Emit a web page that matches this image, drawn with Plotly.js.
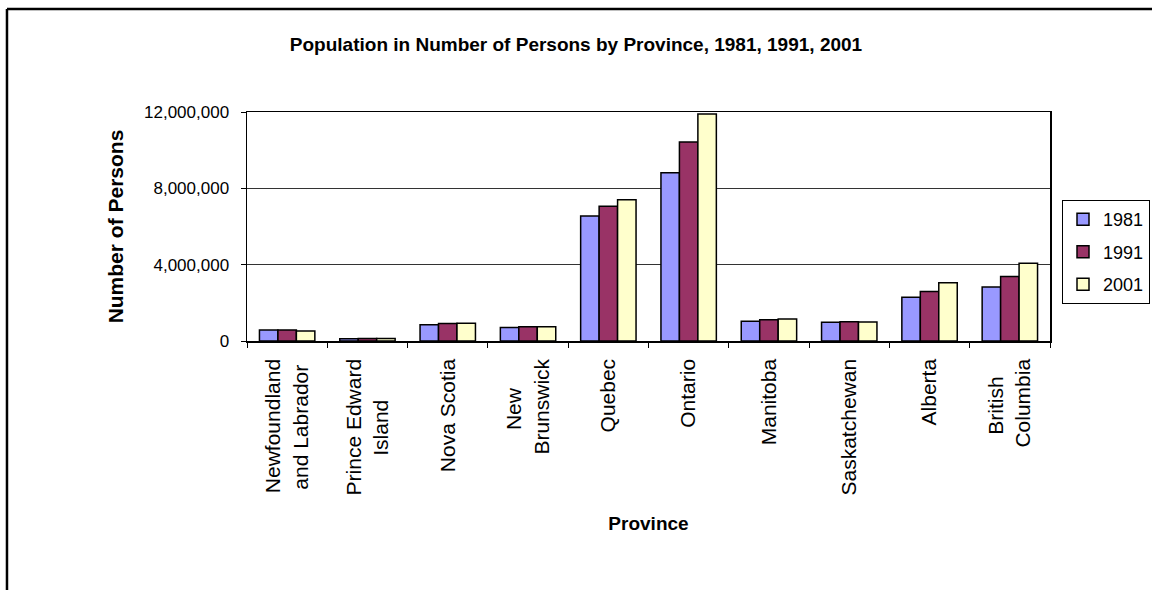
<!DOCTYPE html>
<html>
<head>
<meta charset="utf-8">
<script src="https://cdn.plot.ly/plotly-3.0.1.min.js"></script>
<style>html,body{margin:0;padding:0;background:#fff;}#chart{width:1152px;height:590px;}</style>
</head>
<body>
<div id="chart"></div>
<script>
const provinces = ["Newfoundland<br>and Labrador&nbsp;", "Prince Edward<br>Island&nbsp;&nbsp;&nbsp;&nbsp;&nbsp;&nbsp;&nbsp;", "Nova Scotia", "New&nbsp;&nbsp;&nbsp;&nbsp;&nbsp;<br>Brunswick", "Quebec", "Ontario", "Manitoba", "Saskatchewan", "Alberta", "British&nbsp;&nbsp;&nbsp;<br>Columbia"];
const pop1981 = [575000, 124000, 855000, 706000, 6548000, 8811000, 1036000, 976000, 2294000, 2824000];
const pop1991 = [580000, 130000, 915000, 746000, 7065000, 10428000, 1110000, 1003000, 2592000, 3374000];
const pop2001 = [522000, 137000, 932000, 750000, 7396000, 11898000, 1151000, 1000000, 3057000, 4078000];
const years = ["1981", "1991", "2001"];
const colors = ["#9999FF", "#993366", "#FFFFCC"];
const yTicks = [0, 4000000, 8000000, 12000000];

const series = [pop1981, pop1991, pop2001];
const traces = series.map((vals, i) => ({
  type: "bar",
  name: years[i],
  x: provinces,
  y: vals,
  legendgroup: "g" + i,
  marker: {color: colors[i], line: {color: "#000", width: 1.5}}
}));

const font = "Liberation Sans, Arial, sans-serif";
const layout = {
  width: 1152, height: 590,
  margin: {l: 247, r: 102, t: 112, b: 249, autoexpand: false},
  paper_bgcolor: "#fff", plot_bgcolor: "#fff",
  font: {family: font, color: "#000", size: 14},
  barmode: "group", bargap: 0.31, bargroupgap: 0,
  title: {text: "<b>Population in Number of Persons by Province, 1981, 1991, 2001</b>", font: {family: font, size: 19, color: "#000"}, x: 0.5, xref: "container", xanchor: "center", y: 0.925, yref: "container", yanchor: "middle"},
  xaxis: {
    tickangle: -90, ticks: "outside", tickson: "boundaries", ticklen: 5, tickcolor: "#000",
    ticklabelstandoff: 8,
    showline: true, linecolor: "#000", linewidth: 1.5, mirror: true,
    tickfont: {family: font, size: 21, color: "#000"},
    title: {text: "<b>Province</b>", font: {family: font, size: 19, color: "#000"}, standoff: 22},
    automargin: false, fixedrange: true
  },
  yaxis: {
    range: [0, 12000000], tickvals: yTicks, tickformat: ",d",
    ticks: "outside", ticklen: 5, tickcolor: "#000",
    ticklabelstandoff: 8,
    showline: true, linecolor: "#000", linewidth: 1.5, mirror: true,
    showgrid: true, gridcolor: "#000", gridwidth: 0.8, zeroline: false,
    tickfont: {family: font, size: 17, color: "#000"},
    title: {text: "<b>Number of Persons</b>", font: {family: font, size: 21, color: "#000"}, standoff: 14},
    automargin: false, fixedrange: true
  },
  showlegend: true,
  legend: {
    x: (1062 - 247) / 803, xanchor: "left", y: 0.615, yanchor: "top",
    bordercolor: "#000", borderwidth: 1, bgcolor: "#fff",
    font: {family: font, size: 18, color: "#000"},
    traceorder: "grouped", tracegroupgap: 6
  },
  shapes: [
    {type: "line", xref: "paper", yref: "paper", x0: -0.2989, x1: -0.2989, y0: -1.3, y1: 1.4498, line: {color: "#000", width: 2.5}},
    {type: "line", xref: "paper", yref: "paper", x0: -0.2989, x1: 1.3, y0: 1.4498, y1: 1.4498, line: {color: "#000", width: 2.5}}
  ]
};
Plotly.newPlot("chart", traces, layout, {displayModeBar: false, staticPlot: true});
</script>
</body>
</html>
